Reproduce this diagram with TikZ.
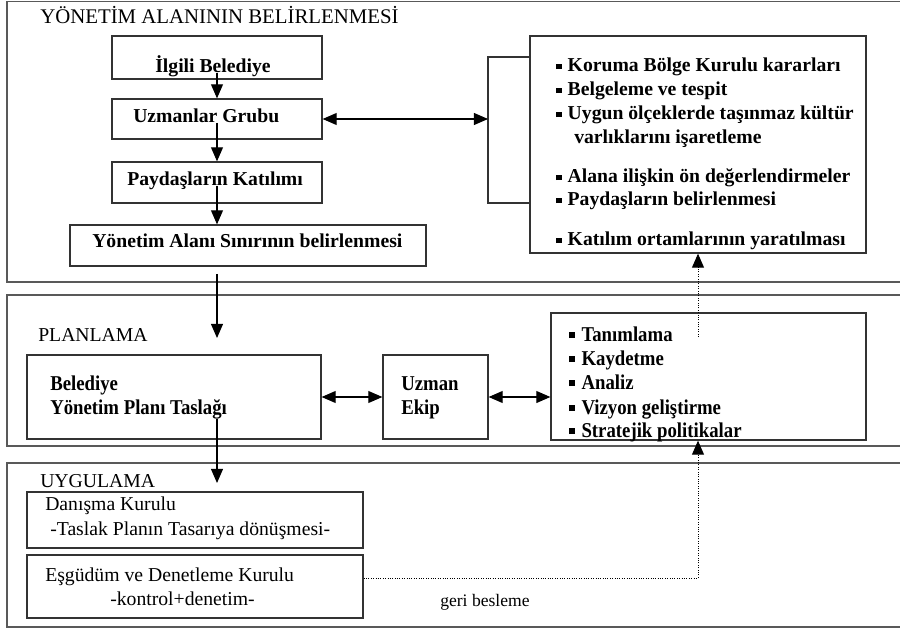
\documentclass[tikz,border=0pt]{standalone}
\usepackage{fontspec}
\setmainfont{Liberation Serif}
\newfontfamily\condserif[FakeStretch=0.89]{Liberation Serif}
\usetikzlibrary{arrows.meta,fit,positioning}

\newcommand{\sqbul}{\rule[0.14em]{0.28em}{0.28em}\hspace{0.3em}}

\tikzset{
  panel/.style={draw=black!65, line width=1.1pt},
  box/.style={draw=black!80, line width=0.9pt, inner sep=0pt},
  txt/.style={inner sep=0pt, anchor=base west, font=\fontsize{14}{17}\selectfont},
  btxt/.style={inner sep=0pt, anchor=base west, font=\fontsize{14}{17}\selectfont\bfseries},
  ctxt/.style={inner sep=0pt, anchor=base west, font=\condserif\fontsize{15}{17}\selectfont\bfseries},
  arr/.style={-{Triangle[length=10pt,width=8.5pt]}, line width=0.8pt},
  darr/.style={{Triangle[length=10pt,width=8.5pt]}-{Triangle[length=10pt,width=8.5pt]}, line width=0.8pt},
  fback/.style={densely dotted, line width=0.7pt, -{Triangle[length=10pt,width=8.5pt]}},
}

\begin{document}
\begin{tikzpicture}[x=0.025cm, y=-0.025cm]
  \useasboundingbox (0,0) rectangle (900,629);

  % the three phases
  \draw[panel] (7,1.5) rectangle (912,282);
  \draw[panel] (7,295) rectangle (912,446);
  \draw[panel] (7,463) rectangle (912,627);

  % yonetim alani
  \node[txt, font=\fontsize{14.8}{17}\selectfont] (head1) at (40,24) {YÖNETİM ALANININ BELİRLENMESİ};

  \node[box, fit={(112,36) (322,79)}] (ilgili) {};
  \node[btxt] (ilgiliT) at (155,73) {İlgili Belediye};
  \node[box, fit={(112,99) (322,139)}] (uzm) {};
  \node[btxt] (uzmT) at (133,123) {Uzmanlar Grubu};
  \node[box, fit={(112,162) (322,203)}] (pay) {};
  \node[btxt] (payT) at (127,186) {Paydaşların Katılımı};
  \node[box, fit={(70,225) (426,266)}] (yas) {};
  \node[btxt] (yasT) at (92,248) {Yönetim Alanı Sınırının belirlenmesi};

  \node[box, fit={(530,36) (866,253)}] (list1) {};
  \foreach \x/\y/\t [count=\i] in {
      556/72/\sqbul Koruma Bölge Kurulu kararları,
      556/96/\sqbul Belgeleme ve tespit,
      556/120/\sqbul Uygun ölçeklerde taşınmaz kültür,
      574/144/varlıklarını işaretleme,
      556/183/\sqbul Alana ilişkin ön değerlendirmeler,
      556/206/\sqbul Paydaşların belirlenmesi,
      556/246/\sqbul Katılım ortamlarının yaratılması}
    \node[btxt] (l1-\i) at (\x,\y) {\t};

  \coordinate (axis) at (217,0);
  \draw[arr] (ilgiliT.base -| axis) -- (uzm.north -| axis);
  \draw[arr] (uzmT.base -| axis) -- (pay.north -| axis);
  \draw[arr] (payT.base -| axis) -- (yas.north -| axis);

  \coordinate (brkT) at (488,57);
  \coordinate (brkB) at (488,203);
  \coordinate (brk) at (488,119);
  \draw[line width=0.9pt, black!80] (list1.west |- brkT) -- (brkT) -- (brkB) -- (list1.west |- brkB);
  \draw[darr] (uzm.east) -- (brk);

  % planlama
  \coordinate (in1) at (217,274);
  \coordinate (in2) at (217,338);
  \draw[arr] (in1) -- (in2);
  \node[txt] (head2) at (38,341) {PLANLAMA};

  \node[box, fit={(27,355) (321,439)}] (plan) {};
  \node[ctxt] (planT1) at (50,390) {Belediye};
  \node[ctxt] (planT2) at (50,414) {Yönetim Planı Taslağı};
  \node[box, fit={(383,355) (488,439)}] (ekip) {};
  \node[ctxt] (ekipT1) at (401,390) {Uzman};
  \node[ctxt] (ekipT2) at (401,414) {Ekip};

  \node[box, fit={(551,313) (866,440)}] (list2) {};
  \foreach \y/\t [count=\i] in {341/Tanımlama, 365/Kaydetme, 389/Analiz,
      414/Vizyon geliştirme, 437/Stratejik politikalar}
    \node[ctxt] (l2-\i) at (569,\y) {\sqbul \t};

  \draw[darr] (plan.east) -- (ekip.west);
  \draw[darr] (ekip.east) -- (ekip.east -| list2.west);

  \coordinate (fb2) at (698,337);
  \draw[fback] (fb2) -- (fb2 |- list1.south);

  % uygulama
  \coordinate (in3) at (217,483);
  \draw[arr] (planT2.south -| axis) -- (in3);
  \node[txt] (head3) at (40,487) {UYGULAMA};

  \node[box, fit={(27,492) (363,548)}] (dan) {};
  \node[txt] (danT1) at (45,510) {Danışma Kurulu};
  \node[txt] (danT2) at (50,535) {-Taslak Planın Tasarıya dönüşmesi-};
  \node[box, fit={(27,555) (363,618)}] (esg) {};
  \node[txt] (esgT1) at (45,581) {Eşgüdüm ve Denetleme Kurulu};
  \node[txt] (esgT2) at (110,605) {-kontrol+denetim-};

  \coordinate (fb) at (698,578);
  \draw[fback] (esg.east |- fb) -- (fb) -- (fb |- list2.south);
  \node[txt, font=\fontsize{12.5}{15}\selectfont] (geri) at (440,606) {geri besleme};
\end{tikzpicture}
\end{document}
